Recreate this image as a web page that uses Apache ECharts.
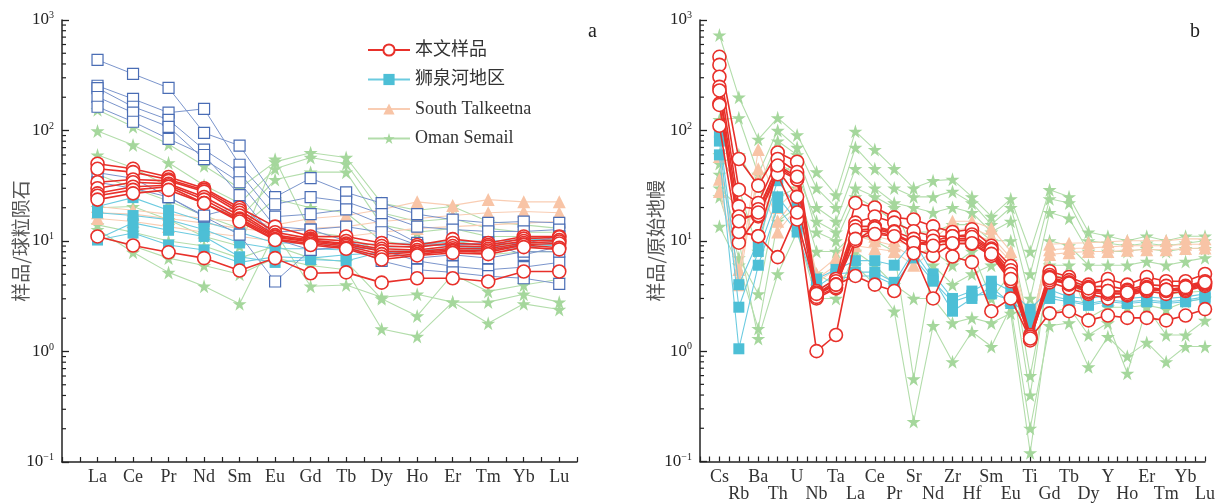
<!DOCTYPE html>
<html>
<head>
<meta charset="utf-8">
<script src="https://cdn.jsdelivr.net/npm/echarts@6/dist/echarts.min.js"></script>
<style>
  html, body { margin: 0; padding: 0; background: #fff; }
  #chart { width: 1218px; height: 503px; }
</style>
</head>
<body>
<div id="chart"></div>
<script>
// ---- element order ----
const reeLabels = ['La','Ce','Pr','Nd','Sm','Eu','Gd','Tb','Dy','Ho','Er','Tm','Yb','Lu'];
const spiderLabels = ['Cs','Rb','Ba','Th','U','Nb','Ta','La','Ce','Pr','Sr','Nd','Zr','Hf','Sm','Eu','Ti','Gd','Tb','Dy','Y','Ho','Er','Tm','Yb','Lu'];

// ---- (a) chondrite-normalised REE ----
const reeThisStudy = [
  [50, 45, 38, 30, 20, 13.5, 11, 11, 9.6, 9.2, 10.4, 9.6, 11, 11],
  [45, 42, 36, 29, 19, 12, 10.5, 10, 9, 8.8, 9.6, 9.2, 10.5, 10.8],
  [34, 36, 35, 28, 18, 11.3, 10.2, 9.5, 8.5, 8.3, 9, 8.9, 10, 10.2],
  [30, 34, 33, 25, 17, 11, 10, 9.3, 8.1, 8.0, 8.6, 8.5, 9.6, 9.9],
  [27, 31, 32, 23.7, 16, 10.8, 9.8, 9, 7.6, 7.9, 8.3, 8.2, 9.3, 9.5],
  [25.7, 29, 31, 22, 15.6, 10.4, 9.5, 8.7, 7.2, 7.6, 8.1, 7.9, 9.2, 8.7],
  [23.7, 27, 29, 22, 15, 10.2, 9.2, 8.5, 6.8, 7.4, 7.8, 7.6, 8.8, 8.4],
  [11, 9.1, 7.9, 7.0, 5.4, 7.0, 5.1, 5.2, 4.2, 4.6, 4.6, 4.3, 5.3, 5.3]
];
const reeOpenSquares = [
  [435, 325, 243, 95, 73, 25, 37, 27.5, 22, 17.5, 15.6, 14.6, 15, 14.6],
  [254, 193, 145, 157, 49, 21.5, 25, 22.7, 17.5, 13.5, 12.7, 12.2, 12.2, 12.7],
  [242, 164, 125, 67, 41.5, 16.6, 17.5, 19.3, 14.2, 9.6, 9.2, 9.6, 9.5, 11],
  [201, 145, 108, 55, 34, 13.5, 12.7, 13.5, 12, 9.2, 9.2, 9.6, 7.5, 8.9],
  [164, 120, 84, 60, 26, 10.4, 8.3, 8.9, 8.3, 6.6, 5.9, 5.5, 5.8, 6.4],
  [41.5, 37, 25, 16.6, 11.4, 4.3, 8.3, 8.9, 6.6, 5.5, 5.2, 4.8, 4.6, 4.1],
  [34, 30, 25, 17, 20.5, 12, 12.7, 10, 8, 7, 7.5, 7, 8, 8]
];
const reeShiquanhe = [
  [20.5, 24.7, 19, 15, 12, 9.6, 9.6, 9.0, 9.5, 9.6, 9.8, 10, 10.2, 10.5],
  [18, 17, 15.6, 12.7, 9.6, 8.5, 8.5, 8.3, 8.8, 9, 9.2, 9.4, 9.6, 9.8],
  [10.4, 14.6, 12.5, 11, 7.2, 6.4, 6.8, 6.6, 8, 8.2, 8.6, 8.8, 9.2, 9.4],
  [10.2, 11.8, 9.2, 8.3, 6.4, 7.2, 7.0, 7.5, 7.8, 7.9, 8.2, 8.4, 8.8, 9.2]
];
const reeTalkeetna = [
  [20.5, 19, 17.5, 16, 15, 14, 16, 17, 19.3, 22.6, 21, 23.7, 22.6, 22.6],
  [18, 17.5, 16, 14.5, 13, 12, 13, 13.5, 15, 16, 17, 18, 18.5, 18],
  [16, 15, 13.5, 12, 11, 10, 10.5, 11, 12, 13, 13.5, 14, 14.5, 15]
];
const reeSemail = [
  [154, 108, 75, 48, 30, 52, 63, 57, 22, 19, 20.5, 15, 14, 13],
  [99, 74, 51, 32, 22, 45, 57, 50, 18, 15, 16, 13, 12, 12],
  [60, 46, 31, 22, 16, 36, 42, 42, 14, 12, 13, 11, 11, 10],
  [40, 30, 23, 17, 13, 24, 20, 18, 10, 9, 10, 9, 9.5, 9],
  [20, 20.5, 15.6, 11, 9, 55, 12, 11, 8, 8, 8.5, 7.5, 8, 8],
  [12.7, 7.9, 5.2, 3.9, 2.7, 12, 3.9, 4.0, 3.1, 3.3, 2.8, 2.8, 3.3, 2.8],
  [11, 9, 7, 6, 5, 7, 6, 5.5, 1.6, 1.37, 2.8, 1.8, 2.7, 2.4],
  [14, 12, 10, 9, 7, 9, 7, 6.5, 3, 2.1, 5, 3.5, 4, 4.5]
];

// ---- (b) primitive-mantle-normalised trace elements ----
const spiderThisStudy = [
  [464, 55, 31.6, 63, 52, 3.5, 4.5, 22, 20, 16.3, 15.6, 13.5, 12, 12.7, 9, 5.9, 1.4, 5.3, 4.7, 4.0, 4.5, 4.0, 4.7, 4.3, 4.3, 5.0],
  [392, 29, 22, 55, 42, 3.3, 4.3, 14.6, 16.6, 14.6, 12.2, 11, 11, 11.4, 8.5, 5.4, 1.35, 4.9, 4.4, 3.8, 3.9, 3.6, 4.0, 3.9, 3.9, 4.3],
  [306, 20.5, 19.3, 47, 36, 3.2, 4.0, 13.5, 13.5, 12.2, 10.4, 9.6, 10.4, 10.4, 8.1, 4.8, 1.3, 4.7, 4.2, 3.6, 3.5, 3.5, 3.8, 3.6, 3.7, 4.1],
  [248, 16.6, 16.6, 44, 25, 3.0, 3.7, 12.2, 12.2, 11, 8.4, 7.3, 9.4, 9.4, 7.3, 4.3, 1.3, 4.2, 3.7, 3.3, 3.0, 3.2, 3.5, 3.3, 3.5, 3.9],
  [175, 12.2, 11, 44, 36, 3.1, 3.8, 12.5, 12.8, 11.5, 9.6, 9.6, 10, 10, 7.8, 4.6, 1.3, 4.5, 4.0, 3.4, 3.3, 3.3, 3.6, 3.5, 3.6, 4.0],
  [110, 9.6, 17, 40, 15.6, 3.4, 4.0, 10, 13, 12, 9, 10, 11, 10.8, 8.3, 5.0, 1.35, 4.4, 4.1, 3.5, 3.4, 3.3, 3.7, 3.6, 3.7, 4.1],
  [230, 12, 11, 7.1, 18, 1.0, 1.4, 10.4, 11.5, 11, 9.6, 9, 9.5, 9.5, 7.6, 4.5, 1.25, 4.6, 4.1, 3.7, 3.5, 3.4, 3.7, 3.6, 3.8, 4.2],
  [170, 15, 18, 48, 38, 3.3, 4.0, 4.8, 4.0, 3.5, 7.7, 3.0, 7.2, 6.4, 2.3, 3.0, 1.3, 2.2, 2.3, 1.9, 2.1, 2.0, 2.0, 1.9, 2.1, 2.4]
];
const spiderShiquanhe = [
  [95, 4.0, 10, 35, 20, 4.5, 5.5, 6.6, 6.6, 6.0, 10, 5, 3, 3.5, 4.3, 3.5, 2.4, 3.6, 3.1, 3.0, 3.2, 3.0, 3.1, 3.0, 3.1, 3.3],
  [80, 2.5, 8, 25, 15, 3.8, 5.0, 5.2, 5.2, 4.2, 8, 4.5, 2.3, 3.0, 3.8, 2.7, 1.7, 3.2, 2.9, 2.7, 2.9, 2.8, 2.9, 2.8, 2.9, 3.1],
  [60, 1.05, 6, 20, 12, 3.5, 4.5, 4.8, 4.8, 4.0, 7, 4.3, 2.8, 3.2, 3.3, 2.9, 2.0, 3.0, 2.8, 2.6, 2.8, 2.7, 2.8, 2.7, 2.8, 3.0]
];
const spiderTalkeetna = [
  [58, 4.6, 67, 20, 30, 5, 7, 13, 11, 10, 9, 10, 15, 15, 13, 8, 1.6, 9.3, 9.5, 9.6, 9.8, 10, 10, 10, 10.4, 10.4],
  [36, 4.0, 45, 15, 25, 4.5, 6, 11, 10, 9, 7, 9, 12.5, 13, 11, 7, 1.4, 8.3, 8.5, 8.6, 8.8, 9, 9, 9, 9.3, 9.3],
  [28, 5.5, 35, 12, 20, 4.2, 5.5, 9, 8.5, 8, 6, 8, 11, 11.5, 10, 6.5, 1.5, 7.5, 7.8, 8, 8, 8.2, 8.3, 8.3, 8.5, 8.6]
];
const spiderSemail = [
  [731, 200, 83, 130, 91, 42, 26, 98, 67, 45, 30, 35, 36, 25, 16.6, 24, 8, 29, 25, 12, 11, 10, 11, 10, 11, 11],
  [125, 130, 40, 100, 70, 30, 20, 70, 45, 30, 25, 25, 28, 22, 14, 20, 5, 24, 22, 10, 9.5, 9, 9.5, 9, 9.5, 10],
  [50, 60, 30, 80, 60, 20, 15, 45, 30, 22, 20, 18, 20, 18, 12, 15, 3, 18, 16, 8, 8, 8, 8.5, 8, 8.5, 8.5],
  [30, 20, 20, 40, 50, 12, 10, 25, 20, 15, 12, 12, 14, 14, 10, 10, 1.5, 10, 9, 6, 6, 6, 6.5, 6, 6.5, 7],
  [25, 7, 3.3, 25, 30, 8, 8, 12, 10, 8, 0.56, 6, 4, 5, 6, 6.5, 0.6, 5, 4.5, 3.5, 3.5, 3.5, 3.5, 3.3, 3.4, 3.5],
  [13.5, 6, 1.6, 15, 20, 5, 4, 6, 4, 2.3, 0.23, 1.7, 0.8, 1.5, 1.1, 2.5, 0.2, 1.7, 1.8, 0.72, 1.35, 0.9, 1.2, 0.8, 1.1, 1.1],
  [40, 10, 1.3, 5, 12, 3, 3, 8, 6, 4, 3, 3, 1.8, 2, 1.8, 2.2, 0.12, 2.2, 2.5, 1.4, 1.8, 0.63, 2.5, 1.4, 1.4, 1.9],
  [60, 30, 8, 50, 40, 15, 12, 30, 25, 20, 8, 8, 6, 8, 3, 5, 0.4, 6, 6, 2, 2.5, 2.5, 2.6, 2.4, 2.8, 3]
];

// log-axis minor tick positions (2..9 per decade)
const minorTickValues = [0.2,0.3,0.4,0.5,0.6,0.7,0.8,0.9, 2,3,4,5,6,7,8,9, 20,30,40,50,60,70,80,90, 200,300,400,500,600,700,800,900];

const NAME_SELF = '本文样品';
const NAME_SQH = '狮泉河地区';
const NAME_TK = 'South Talkeetna';
const NAME_OM = 'Oman Semail';
const NAME_OPEN = '对比样品';

const SERIF = '"Liberation Serif", "Times New Roman", "Noto Sans CJK SC", serif';
const STAR = 'path://M50,0 L61,35 L98,35 L68,57 L79,91 L50,70 L21,91 L32,57 L2,35 L39,35 Z';

const styles = {
  self: { symbol: 'circle', symbolSize: 13, z: 10,
          itemStyle: { color: '#fff', borderColor: '#e8302a', borderWidth: 1.6 },
          lineStyle: { color: '#e8302a', width: 1.6 } },
  open: { symbol: 'rect', symbolSize: 11, z: 8,
          itemStyle: { color: '#fff', borderColor: '#4a6db5', borderWidth: 1.2 },
          lineStyle: { color: '#7b95cc', width: 1 } },
  sqh:  { symbol: 'rect', symbolSize: 11, z: 6,
          itemStyle: { color: '#4dbfd6' },
          lineStyle: { color: '#6ccbe0', width: 1.1 } },
  tk:   { symbol: 'triangle', symbolSize: 13, z: 4,
          itemStyle: { color: '#f8c4a6' },
          lineStyle: { color: '#f9cdb3', width: 1.1 } },
  om:   { symbol: STAR, symbolSize: 14, z: 2,
          itemStyle: { color: '#a5d79c' },
          lineStyle: { color: '#b3ddab', width: 1.1 } }
};

function makeSeries(name, rows, axis, st) {
  return rows.map(row => ({
    name: name,
    type: 'line',
    xAxisIndex: axis,
    yAxisIndex: axis,
    data: row.map((v, i) => [i, v]),
    symbol: st.symbol,
    symbolSize: st.symbolSize,
    z: st.z,
    itemStyle: st.itemStyle,
    lineStyle: st.lineStyle,
    emphasis: { disabled: true },
    animation: false
  }));
}

function minorTickSeries(axis) {
  return {
    type: 'custom',
    xAxisIndex: axis,
    yAxisIndex: axis,
    silent: true,
    z: 20,
    clip: false,
    animation: false,
    data: minorTickValues.map(v => [-1, v]),
    renderItem: (params, api) => {
      const p = api.coord([api.value(0), api.value(1)]);
      return {
        type: 'line',
        shape: { x1: p[0], y1: p[1], x2: p[0] + 4, y2: p[1] },
        style: { stroke: '#222', lineWidth: 1.2 }
      };
    }
  };
}

function yAxisCfg(gridIndex, title, gap) {
  return {
    type: 'log',
    logBase: 10,
    gridIndex: gridIndex,
    min: 0.1,
    max: 1000,
    name: title,
    nameLocation: 'middle',
    nameGap: gap,
    nameMoveOverlap: false,
    nameTextStyle: { fontSize: 19, color: '#555', fontFamily: '"Noto Sans CJK SC", sans-serif' },
    axisLine: { show: true, onZero: false, lineStyle: { color: '#222', width: 1.5 } },
    axisTick: { show: true, inside: true, length: 7, lineStyle: { color: '#222', width: 1.3 } },
    splitLine: { show: false },
    axisLabel: {
      margin: 8,
      formatter: v => {
        const e = Math.round(Math.log10(v));
        return '{b|10}{s|' + (e < 0 ? '\u2212' + (-e) : e) + '}';
      },
      rich: {
        b: { fontSize: 17, fontFamily: SERIF, color: '#222' },
        s: { fontSize: 10, fontFamily: SERIF, color: '#222', verticalAlign: 'top', padding: [0, 0, 9, 0] }
      }
    }
  };
}

function xAxisCfg(gridIndex, labels, twoRows) {
  return {
    type: 'value',
    gridIndex: gridIndex,
    min: -1,
    max: twoRows ? labels.length - 1 : labels.length - 0.5,
    interval: 0.5,
    axisLine: { show: true, onZero: false, lineStyle: { color: '#222', width: 1.5 } },
    axisTick: { show: true, inside: true, length: 5, lineStyle: { color: '#222', width: 1.2 } },
    splitLine: { show: false },
    axisLabel: {
      margin: 7,
      fontSize: 18,
      fontFamily: SERIF,
      color: '#333',
      lineHeight: 17,
      showMinLabel: true,
      showMaxLabel: true,
      formatter: v => {
        if (!Number.isInteger(v) || v < 0 || v >= labels.length) return '';
        if (twoRows && v % 2 === 1) return '\n' + labels[v];
        return labels[v];
      }
    }
  };
}

const series = [].concat(
  makeSeries(NAME_OM, reeSemail, 0, styles.om),
  makeSeries(NAME_TK, reeTalkeetna, 0, styles.tk),
  makeSeries(NAME_SQH, reeShiquanhe, 0, styles.sqh),
  makeSeries(NAME_OPEN, reeOpenSquares, 0, styles.open),
  makeSeries(NAME_SELF, reeThisStudy, 0, styles.self),
  makeSeries(NAME_OM, spiderSemail, 1, styles.om),
  makeSeries(NAME_TK, spiderTalkeetna, 1, styles.tk),
  makeSeries(NAME_SQH, spiderShiquanhe, 1, styles.sqh),
  makeSeries(NAME_SELF, spiderThisStudy, 1, styles.self),
  [minorTickSeries(0), minorTickSeries(1)]
);

const chart = echarts.init(document.getElementById('chart'), null, { renderer: 'canvas' });
chart.setOption({
  backgroundColor: '#fff',
  animation: false,
  grid: [
    { left: 62, top: 20, width: 515, height: 442 },
    { left: 700, top: 20, width: 512, height: 443 }
  ],
  xAxis: [ xAxisCfg(0, reeLabels, false), xAxisCfg(1, spiderLabels, true) ],
  yAxis: [ yAxisCfg(0, '样品/球粒陨石', 32), yAxisCfg(1, '样品/原始地幔', 35) ],
  legend: {
    data: [NAME_SELF, NAME_SQH, NAME_TK, NAME_OM],
    orient: 'vertical',
    left: 362,
    top: 36,
    itemWidth: 42,
    itemHeight: 14,
    itemGap: 11.5,
    selectedMode: false,
    textStyle: { fontSize: 18, fontFamily: SERIF, color: '#333' }
  },
  graphic: [
    { type: 'text', left: 588, top: 22, style: { text: 'a', fontSize: 20, fontFamily: SERIF, fill: '#222' } },
    { type: 'text', left: 1190, top: 22, style: { text: 'b', fontSize: 20, fontFamily: SERIF, fill: '#222' } }
  ],
  series: series
});
</script>
</body>
</html>
